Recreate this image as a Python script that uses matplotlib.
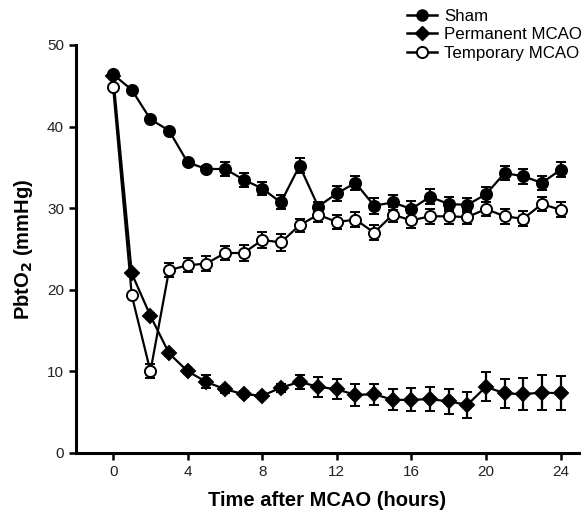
import numpy as np
import matplotlib
matplotlib.use("Agg")
import matplotlib.pyplot as plt
from matplotlib.lines import Line2D

plt.rcParams['font.family'] = ['Liberation Sans', 'DejaVu Sans']

hours = list(range(25))

sham = [46.4, 44.5, 40.9, 39.5, 35.6, 34.8, 34.8, 33.5, 32.4, 30.7, 35.2, 30.2, 31.8,
        33.1, 30.3, 30.7, 29.9, 31.4, 30.5, 30.4, 31.7, 34.3, 33.9, 33.1, 34.7]
sham_err = [0.3, 0.3, 0.3, 0.3, 0.3, 0.4, 0.8, 0.85, 0.8, 0.85, 0.9, 0.5, 0.9,
            0.9, 1.0, 0.95, 0.95, 0.95, 0.9, 0.9, 0.95, 0.9, 0.9, 0.9, 0.9]

permanent = [46.2, 22.0, 16.8, 12.2, 10.0, 8.7, 7.8, 7.2, 7.0, 8.0, 8.7, 8.1, 7.8,
             7.1, 7.2, 6.5, 6.5, 6.6, 6.3, 5.9, 8.1, 7.3, 7.2, 7.4, 7.3]
permanent_err = [0.3, 0.3, 0.3, 0.3, 0.3, 0.8, 0.4, 0.4, 0.3, 0.5, 0.9, 1.2, 1.2,
                 1.3, 1.3, 1.3, 1.4, 1.5, 1.5, 1.6, 1.8, 1.8, 2.0, 2.1, 2.1]

temporary = [44.8, 19.3, 10.0, 22.4, 23.0, 23.2, 24.5, 24.5, 26.1, 25.8, 27.9, 29.2, 28.3,
             28.6, 27.0, 29.2, 28.5, 29.0, 29.0, 28.9, 29.9, 29.0, 28.7, 30.5, 29.8]
temporary_err = [0.3, 0.3, 0.85, 0.85, 0.85, 0.9, 0.9, 1.0, 1.0, 1.0, 0.8, 0.9, 0.9,
                 0.9, 0.9, 0.9, 0.9, 0.9, 0.9, 0.9, 0.9, 0.9, 0.9, 0.9, 0.9]

fig = plt.figure(figsize=(5.88, 5.17), dpi=100)
ax = fig.add_axes([0.129, 0.124, 0.856, 0.789])

style = dict(color='black', linewidth=1.6, markersize=8, capsize=3.8,
             elinewidth=1.6, capthick=1.6, markeredgewidth=1.4)

ax.errorbar(hours, sham, yerr=sham_err, marker='o', mfc='black', zorder=3, **style)
ax.errorbar(hours, permanent, yerr=permanent_err, marker='D', mfc='black',
            zorder=4, **dict(style, markersize=7))
ax.errorbar(hours, temporary, yerr=temporary_err, marker='o', mfc='white',
            zorder=5, **style)

ax.set_xlim(-2, 25)
ax.set_ylim(0, 50)
ax.set_xticks([0, 4, 8, 12, 16, 20, 24])
ax.set_yticks([0, 10, 20, 30, 40, 50])

for side in ['top', 'right']:
    ax.spines[side].set_visible(False)
for side in ['left', 'bottom']:
    ax.spines[side].set_linewidth(2.2)
ax.tick_params(width=1.8, length=5, labelsize=11, colors='black', labelcolor='#222222')

ax.set_xlabel('Time after MCAO (hours)', fontsize=14.5, fontweight='bold', labelpad=9)
ax.set_ylabel('PbtO$_\\mathbf{2}$ (mmHg)', fontsize=14.5, fontweight='bold', labelpad=9)

handles = [
    Line2D([], [], color='black', lw=1.8, marker='o', mfc='black', markersize=8),
    Line2D([], [], color='black', lw=1.8, marker='D', mfc='black', markersize=7),
    Line2D([], [], color='black', lw=1.8, marker='o', mfc='white', markersize=8, markeredgewidth=1.4),
]
labels = ['Sham', 'Permanent MCAO', 'Temporary MCAO']
fig.legend(handles, labels, loc='upper left', bbox_to_anchor=(0.692, 0.983),
           frameon=False, fontsize=12.2, handlelength=1.75, handletextpad=0.45,
           labelspacing=0.2, borderpad=0, borderaxespad=0)

fig.savefig('out.png', dpi=100)
